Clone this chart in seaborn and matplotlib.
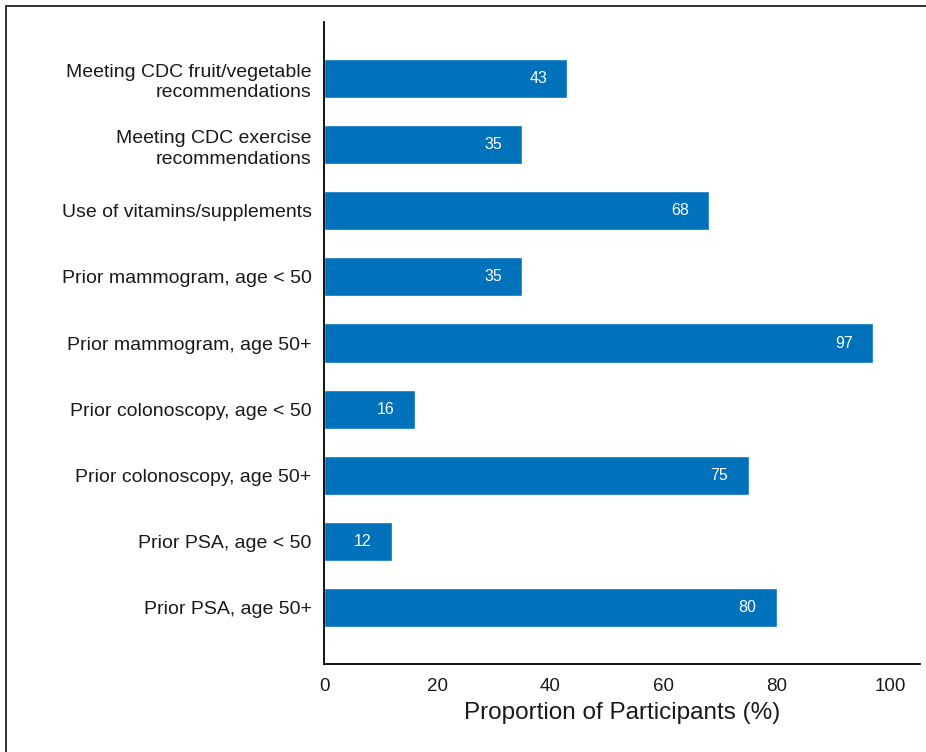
import matplotlib
matplotlib.use("Agg")
import matplotlib.pyplot as plt
import seaborn as sns
import pandas as pd
from matplotlib.patches import Rectangle

categories = [
    "Meeting CDC fruit/vegetable\nrecommendations",
    "Meeting CDC exercise\nrecommendations",
    "Use of vitamins/supplements",
    "Prior mammogram, age < 50",
    "Prior mammogram, age 50+",
    "Prior colonoscopy, age < 50",
    "Prior colonoscopy, age 50+",
    "Prior PSA, age < 50",
    "Prior PSA, age 50+",
]
values = [43, 35, 68, 35, 97, 16, 75, 12, 80]
xticks = [0, 20, 40, 60, 80, 100]

df = pd.DataFrame({"category": categories, "value": values})

sns.set_theme(style="white")
plt.rcParams["font.family"] = ["Liberation Sans", "DejaVu Sans"]

fig = plt.figure(figsize=(9.26, 7.52), dpi=100)
ax = fig.add_axes([324/926, 1-664/752, (920-324)/926, (664-22)/752])

sns.barplot(data=df, x="value", y="category", orient="h", color="#0072BC",
            saturation=1, width=0.59, ax=ax)

for i, v in enumerate(values):
    ax.annotate(str(v), xy=(v, i), xytext=(-21, 0), textcoords="offset points",
                ha="center", va="center", color="white", fontsize=11.5)

ax.set_xlim(0, 105.3)
ax.set_ylim(len(values) - 1 + 0.855, -0.855)
ax.set_xticks(xticks)
ax.set_xticklabels([str(t) for t in xticks], fontsize=13.5)
ax.set_xlabel("Proportion of Participants (%)", fontsize=17.5, color="#1a1a1a", labelpad=5)
ax.set_ylabel("")
ax.tick_params(axis="y", length=0, labelsize=14, labelcolor="#1a1a1a", pad=9)
ax.tick_params(axis="x", length=6, width=1, direction="out", color="#333333", labelcolor="#1a1a1a", pad=4)
for lab in ax.get_yticklabels():
    lab.set_multialignment("right")
    lab.set_linespacing(1.3)

for s in ["top", "right"]:
    ax.spines[s].set_visible(False)
for s in ["left", "bottom"]:
    ax.spines[s].set_color("black")
    ax.spines[s].set_linewidth(1.3)

fig.patches.append(Rectangle((5.5/926, -0.1), 1.2, 1 - 5.5/752 + 0.1,
                             transform=fig.transFigure, fill=False,
                             edgecolor="#222222", linewidth=1.3))

fig.savefig("out.png", dpi=100)
